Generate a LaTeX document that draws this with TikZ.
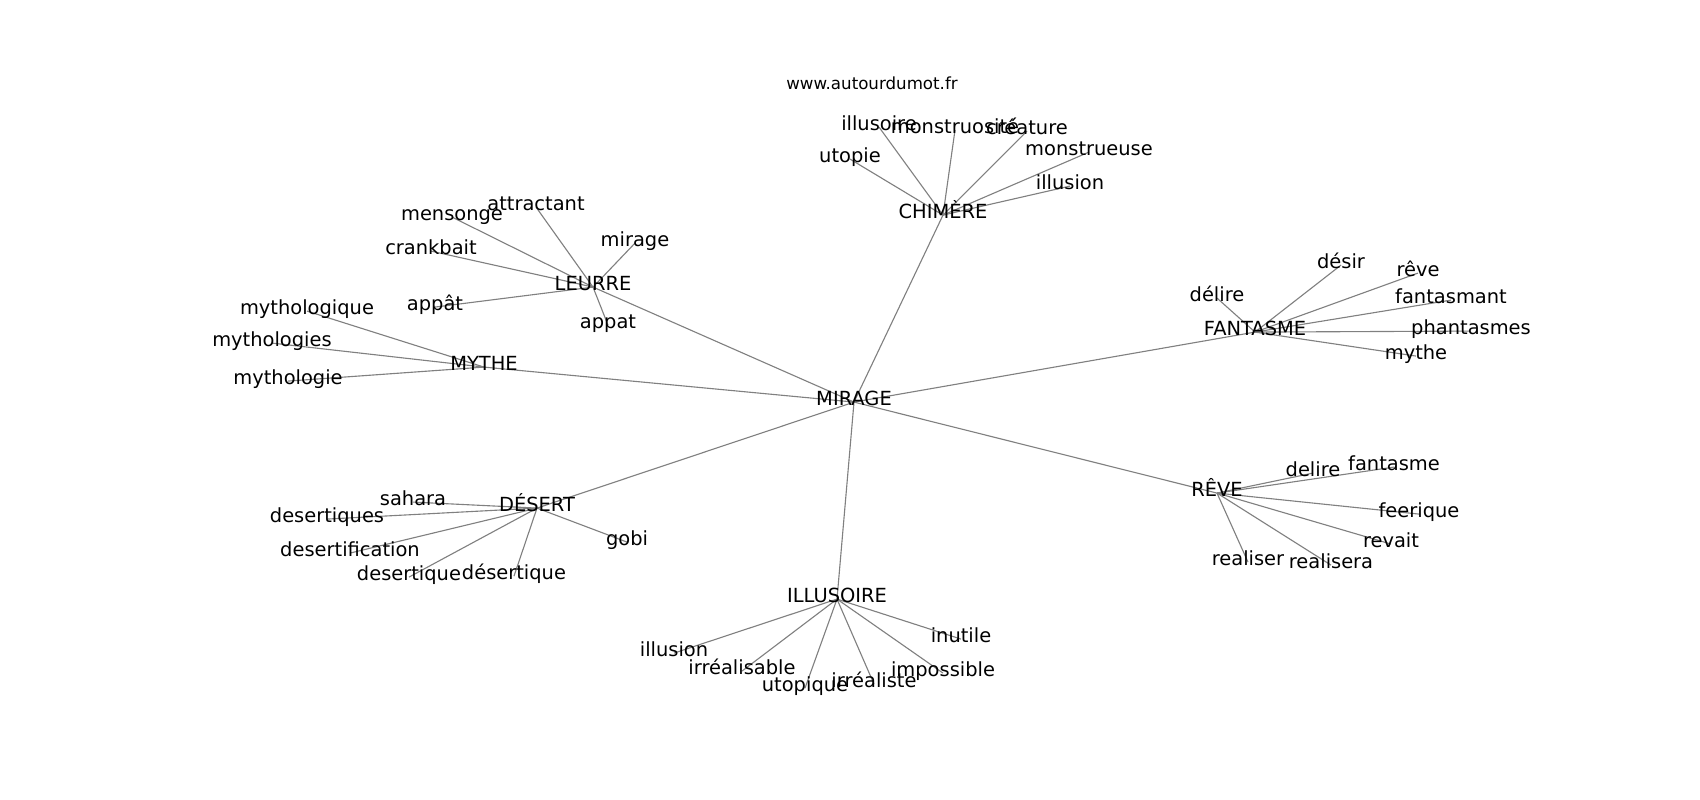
\documentclass[tikz,border=0pt]{standalone}
\usepackage{fontspec}
\setmainfont{DejaVu Sans}
\pgfdeclarelayer{bg}
\pgfsetlayers{bg,main}
\tikzset{
  lbl/.style={inner sep=0pt, text height=0.76em, text depth=0.24em, font=\fontsize{14bp}{16bp}\selectfont, text=black, yshift=-1.5bp},
  hdr/.style={inner sep=0pt, font=\fontsize{12bp}{14bp}\selectfont, text=black},
  edge/.style={draw=gray, line width=0.8bp}
}
\begin{document}
\begin{tikzpicture}[x=0.72bp, y=-0.72bp]
\useasboundingbox (0,0) rectangle (1700,800);
\node[hdr] (www) at (872,83) {www.autourdumot.fr};
% hubs
\node[lbl] (mirage) at (854,400) {MIRAGE};
\node[lbl] (chimere) at (943,213) {CHIMÈRE};
\node[lbl] (leurre) at (593,285) {LEURRE};
\node[lbl] (mythe) at (484,365) {MYTHE};
\node[lbl] (fantasme) at (1255,330) {FANTASME};
\node[lbl] (reve) at (1217,491) {RÊVE};
\node[lbl] (desert) at (537,506) {DÉSERT};
\node[lbl] (illusoire) at (837,597) {ILLUSOIRE};
% chimere leaves
\node[lbl] (c1) at (879,125) {illusoire};
\node[lbl] (c2) at (955,128) {monstruosité};
\node[lbl] (c3) at (1027,129) {créature};
\node[lbl] (c4) at (850,157) {utopie};
\node[lbl] (c5) at (1089,150) {monstrueuse};
\node[lbl] (c6) at (1070,184) {illusion};
% leurre leaves
\node[lbl] (l1) at (536,205) {attractant};
\node[lbl] (l2) at (452,215) {mensonge};
\node[lbl] (l3) at (635,241) {mirage};
\node[lbl] (l4) at (431,249) {crankbait};
\node[lbl] (l5) at (435,305) {appât};
\node[lbl] (l6) at (608,323) {appat};
% mythe leaves
\node[lbl] (m1) at (307,309) {mythologique};
\node[lbl] (m2) at (272,341) {mythologies};
\node[lbl] (m3) at (288,379) {mythologie};
% fantasme leaves
\node[lbl] (f1) at (1341,263) {désir};
\node[lbl] (f2) at (1418,271) {rêve};
\node[lbl] (f3) at (1217,296) {délire};
\node[lbl] (f4) at (1451,298) {fantasmant};
\node[lbl] (f5) at (1471,329) {phantasmes};
\node[lbl] (f6) at (1416,354) {mythe};
% reve leaves
\node[lbl] (r1) at (1313,471) {delire};
\node[lbl] (r2) at (1394,465) {fantasme};
\node[lbl] (r3) at (1419,512) {feerique};
\node[lbl] (r4) at (1391,542) {revait};
\node[lbl] (r5) at (1248,560) {realiser};
\node[lbl] (r6) at (1331,563) {realisera};
% desert leaves
\node[lbl] (d1) at (413,500) {sahara};
\node[lbl] (d2) at (327,517) {desertiques};
\node[lbl] (d3) at (350,551) {desertification};
\node[lbl] (d4) at (409,575) {desertique};
\node[lbl] (d5) at (514,574) {désertique};
\node[lbl] (d6) at (627,540) {gobi};
% illusoire leaves
\node[lbl] (i1) at (674,651) {illusion};
\node[lbl] (i2) at (742,669) {irréalisable};
\node[lbl] (i3) at (805,686) {utopique};
\node[lbl] (i4) at (874,682) {irréaliste};
\node[lbl] (i5) at (943,671) {impossible};
\node[lbl] (i6) at (961,637) {inutile};
\begin{pgfonlayer}{bg}
\fill[white] (0,0) rectangle (1700,800);
\foreach \a/\b in {mirage/chimere, mirage/leurre, mirage/mythe, mirage/fantasme, mirage/reve, mirage/desert, mirage/illusoire,
  chimere/c1, chimere/c2, chimere/c3, chimere/c4, chimere/c5, chimere/c6,
  leurre/l1, leurre/l2, leurre/l3, leurre/l4, leurre/l5, leurre/l6,
  mythe/m1, mythe/m2, mythe/m3,
  fantasme/f1, fantasme/f2, fantasme/f3, fantasme/f4, fantasme/f5, fantasme/f6,
  reve/r1, reve/r2, reve/r3, reve/r4, reve/r5, reve/r6,
  desert/d1, desert/d2, desert/d3, desert/d4, desert/d5, desert/d6,
  illusoire/i1, illusoire/i2, illusoire/i3, illusoire/i4, illusoire/i5, illusoire/i6}
  \draw[edge] (\a.center) -- (\b.center);
\end{pgfonlayer}
\end{tikzpicture}
\end{document}
